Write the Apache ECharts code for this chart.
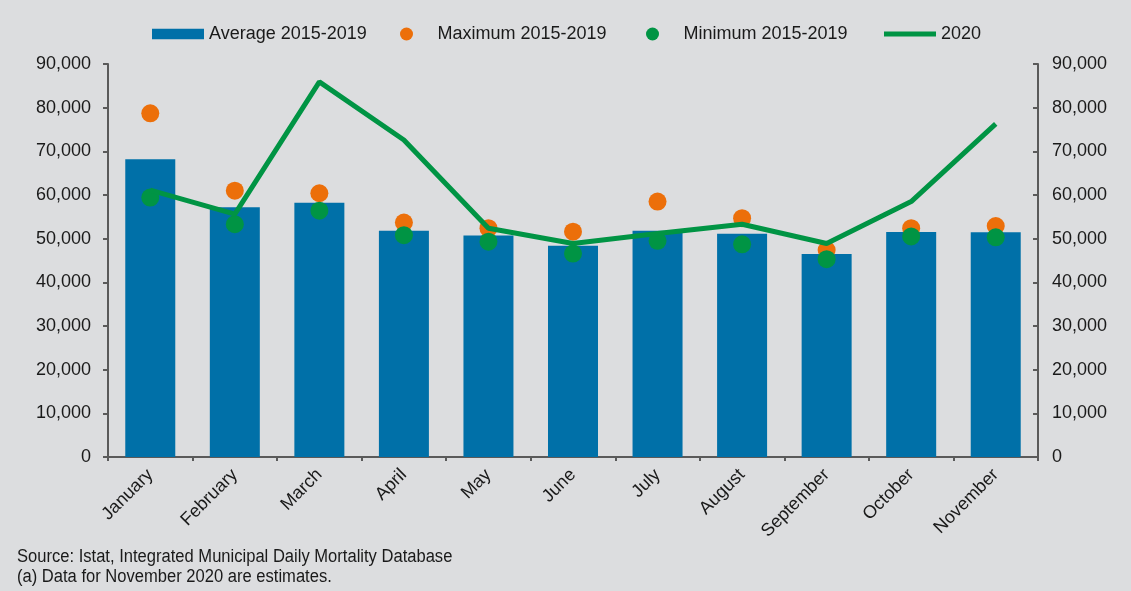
<!DOCTYPE html>
<html>
<head>
<meta charset="utf-8">
<script src="https://cdn.jsdelivr.net/npm/echarts@6/dist/echarts.min.js"></script>
<style>
  html, body { margin: 0; padding: 0; background: #dcdddf; }
  #chart { width: 1131px; height: 591px; }
</style>
</head>
<body>
<div id="chart"></div>
<script>
// months
const months = ['January', 'February', 'March', 'April', 'May', 'June', 'July', 'August', 'September', 'October', 'November']
// average deaths 2015-2019
const average = [68200, 57200, 58200, 51800, 50700, 48400, 51800, 51100, 46500, 51500, 51450]
// maximum 2015-2019
const maximum = [78700, 61000, 60400, 53700, 52400, 51600, 58500, 54700, 47400, 52400, 52900]
// minimum 2015-2019
const minimum = [59400, 53300, 56400, 50800, 49300, 46600, 49500, 48700, 45300, 50500, 50300]
// year 2020
const y2020 = [61100, 55600, 85900, 72600, 52400, 48900, 51200, 53300, 48900, 58500, 76300]

const fontMain = 'Liberation Sans, Arial, sans-serif'
const axisColor = '#5a5a5a'
const textColor = '#1a1a1a'

const chart = echarts.init(document.getElementById('chart'))

const valueAxis = {
  type: 'value',
  min: 0,
  max: 90000,
  interval: 10000,
  splitLine: { show: false },
  axisLine: { show: true, lineStyle: { color: axisColor, width: 2 } },
  axisTick: { show: true, length: 5, lineStyle: { color: axisColor, width: 2 } },
  axisLabel: {
    color: textColor,
    fontSize: 18,
    fontFamily: fontMain,
    margin: 17,
    formatter: function (v) {
      return v.toLocaleString('en-US')
    },
  },
}

// one legend block per item so the gaps follow the original
function legendItem(left, name, icon) {
  return {
    left: left,
    top: 25,
    padding: 0,
    itemWidth: 52,
    itemHeight: 13,
    symbolKeepAspect: true,
    textStyle: { color: textColor, fontSize: 18, fontFamily: fontMain },
    data: [{ name: name, icon: icon, itemStyle: { borderWidth: 0 } }],
  }
}

const option = {
  backgroundColor: '#dcdddf',
  animation: false,
  legend: [
    legendItem(152, 'Average 2015-2019', 'path://M0,0L52,0L52,10.5L0,10.5Z'),
    legendItem(400, 'Maximum 2015-2019', 'circle'),
    legendItem(646, 'Minimum 2015-2019', 'circle'),
    legendItem(884, '2020', 'path://M0,0L52,0L52,5L0,5Z'),
  ],
  grid: {
    left: 108,
    right: 93,
    top: 64,
    bottom: 134,
  },
  xAxis: {
    type: 'category',
    data: months,
    axisLine: { show: true, lineStyle: { color: axisColor, width: 2 } },
    axisTick: { show: true, length: 4, lineStyle: { color: axisColor, width: 2 } },
    axisLabel: {
      rotate: 45,
      color: textColor,
      fontSize: 18,
      fontFamily: fontMain,
      margin: 15,
      interval: 0,
    },
  },
  yAxis: [
    Object.assign({}, valueAxis, { position: 'left' }),
    Object.assign({}, valueAxis, {
      position: 'right',
      axisTick: { show: true, inside: true, length: 5, lineStyle: { color: axisColor, width: 2 } },
      axisLabel: Object.assign({}, valueAxis.axisLabel, { margin: 14 }),
    }),
  ],
  series: [
    {
      name: 'Average 2015-2019',
      type: 'bar',
      barWidth: 50,
      data: average,
      itemStyle: { color: '#0070a8' },
      z: 1,
    },
    {
      name: 'Maximum 2015-2019',
      type: 'scatter',
      data: maximum,
      symbolSize: 18,
      itemStyle: { color: '#ec6f0a', opacity: 1 },
      z: 2,
    },
    {
      name: 'Minimum 2015-2019',
      type: 'scatter',
      data: minimum,
      symbolSize: 18,
      itemStyle: { color: '#009444', opacity: 1 },
      z: 3,
    },
    {
      name: '2020',
      type: 'line',
      data: y2020,
      symbol: 'none',
      lineStyle: { color: '#009444', width: 5 },
      itemStyle: { color: '#009444' },
      z: 4,
    },
  ],
  graphic: [
    {
      type: 'text',
      x: 17,
      y: 547,
      scaleX: 0.92,
      style: {
        text: 'Source: Istat, Integrated Municipal Daily Mortality Database\n(a) Data for November 2020 are estimates.',
        fill: textColor,
        font: '18px ' + fontMain,
        lineHeight: 20,
      },
    },
  ],
}

chart.setOption(option)
</script>
</body>
</html>
